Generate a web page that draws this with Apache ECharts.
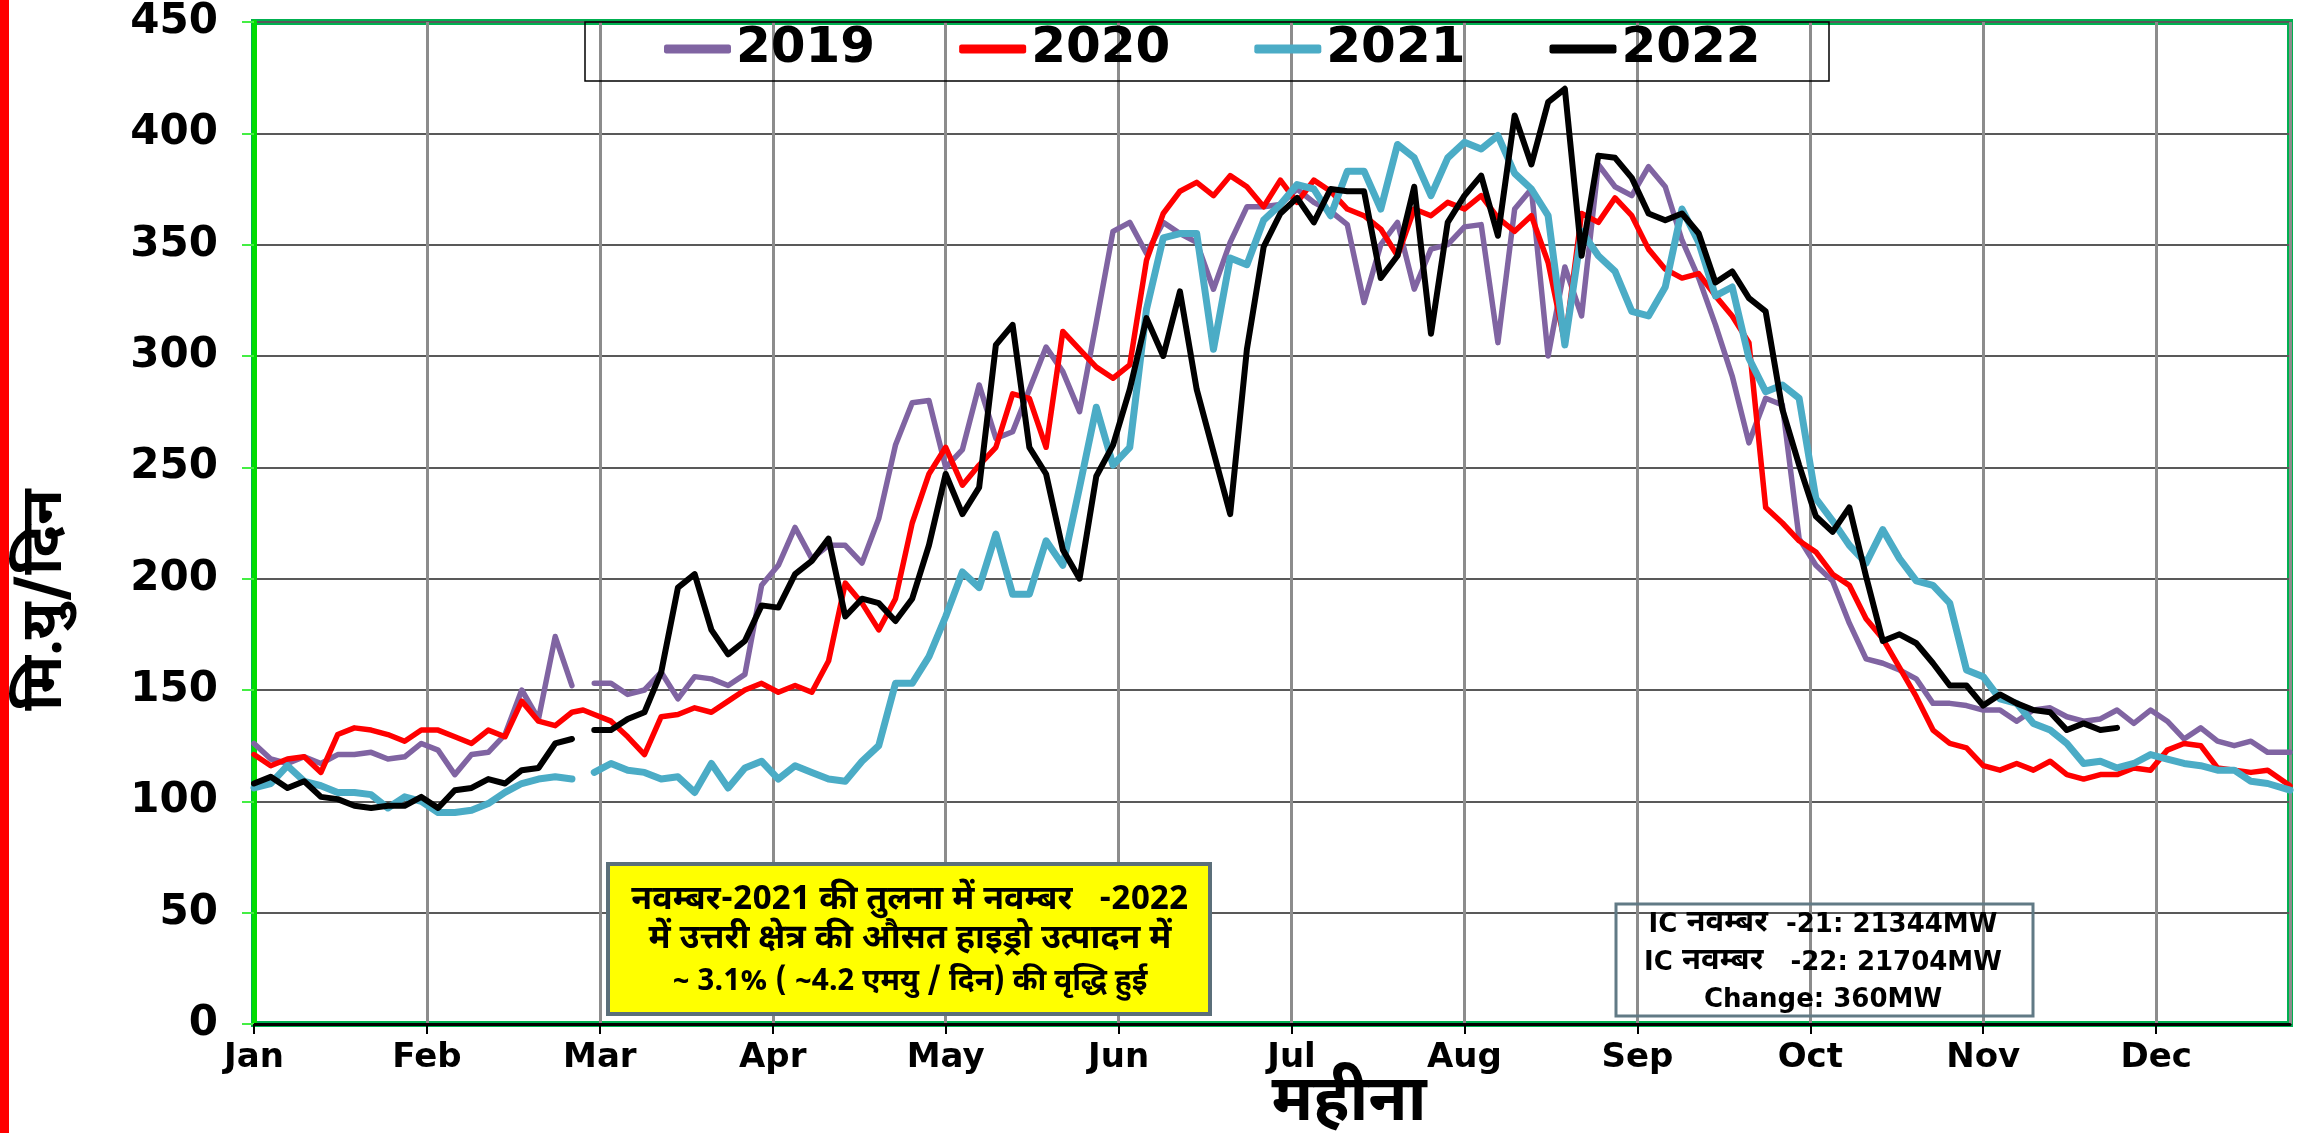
<!DOCTYPE html>
<html>
<head>
<meta charset="utf-8">
<script src="https://cdn.jsdelivr.net/npm/echarts@6/dist/echarts.min.js"></script>
<style>
html,body{margin:0;padding:0;background:#fff;}
#chart{width:2303px;height:1133px;}
</style>
</head>
<body>
<div id="chart"></div>
<script>
// Sample days (day of a 366-day year, 0 = 1 Jan, 59 = 29 Feb)
const DAYS = [0,3,6,9,12,15,18,21,24,27,30,33,36,39,42,45,48,51,54,57,
  59,
  61,64,67,70,73,76,79,82,85,88,91,
  94,97,100,103,106,109,112,115,118,121,124,127,130,133,136,139,142,145,148,151,154,157,160,163,166,169,172,175,178,181,184,
  187,190,193,196,199,202,205,208,211,214,217,220,223,226,229,232,235,238,241,244,247,250,253,256,259,262,265,268,271,274,
  277,280,283,286,289,292,295,298,301,304,307,310,313,316,319,322,325,328,331,334,337,340,343,346,349,352,355,358,361,
  365];

const MONTHS = ['Jan','Feb','Mar','Apr','May','Jun','Jul','Aug','Sep','Oct','Nov','Dec'];
const SERIES_NAMES = ['2019','2020','2021','2022'];

const Y2019 = [126,119,117,120,117,121,121,122,119,120,126,123,112,121,122,130,150,137,174,152,
  null,
  153,153,148,150,158,146,156,155,152,157,197,
  206,223,209,215,215,207,227,260,279,280,250,258,287,263,266,285,304,293,275,315,356,360,346,360,355,351,330,351,367,367,368,
  375,369,365,359,324,350,360,330,348,350,358,359,306,366,375,300,340,318,386,376,372,385,376,352,335,314,291,261,281,278,
  218,206,199,180,164,162,159,155,144,144,143,141,141,136,141,142,138,136,137,141,135,141,136,128,133,127,125,127,122,
  122];

const Y2020 = [121,116,119,120,113,130,133,132,130,127,132,132,129,126,132,129,145,136,134,140,
  141,
  139,136,129,121,138,139,142,140,145,150,153,
  149,152,149,163,198,189,177,191,225,247,259,242,251,259,283,281,259,311,303,295,290,296,343,364,374,378,372,381,376,367,379,
  369,379,374,366,363,357,345,366,363,369,366,372,362,356,363,342,306,364,360,371,363,348,339,335,337,327,318,306,232,225,
  217,212,202,197,182,173,160,147,132,126,124,116,114,117,114,118,112,110,112,112,115,114,123,126,125,115,114,113,114,
  107];

const Y2021 = [106,108,116,109,107,104,104,103,97,102,100,95,95,96,99,104,108,110,111,110,
  null,
  113,117,114,113,110,111,104,117,106,115,118,
  110,116,113,110,109,118,125,153,153,165,183,203,196,220,193,193,217,206,241,277,251,259,321,353,355,355,303,344,341,361,368,
  377,375,363,383,383,366,395,389,372,389,396,393,399,382,375,363,305,356,345,338,320,318,331,366,351,327,331,299,284,287,
  281,236,226,215,207,222,209,199,197,189,159,156,146,144,135,132,126,117,118,115,117,121,119,117,116,114,114,109,108,
  105];

const Y2022 = [108,111,106,109,102,101,98,97,98,98,102,97,105,106,110,108,114,115,126,128,
  null,
  132,132,137,140,158,196,202,177,166,172,188,
  187,202,208,218,183,191,189,181,191,215,247,229,241,305,314,259,247,213,200,246,260,285,317,300,329,285,257,229,303,349,364,
  371,360,375,374,374,335,345,376,310,360,372,381,354,408,386,414,420,345,390,389,380,364,361,364,355,333,338,326,320,276,
  251,228,221,232,201,172,175,171,162,152,152,143,148,144,141,140,132,135,132,133,null,null,null,null,null,null,null,null,null,
  null];

const COLORS = ['#8064A2','#FF0000','#4BACC6','#000000'];
const WIDTHS = [5.5,5.5,7,6];
const VALUES = [Y2019, Y2020, Y2021, Y2022];

const NOTE_LINES = [
  'नवम्बर-2021 की तुलना में नवम्बर   -2022',
  'में उत्तरी क्षेत्र की औसत हाइड्रो उत्पादन में',
  '~ 3.1% ( ~4.2 एमयु / दिन) की वृद्धि हुई'
];
// IC box lines: [latin prefix, devanagari word, latin suffix]
const IC_LINES = [
  ['IC ', 'नवम्बर', '  -21: 21344MW'],
  ['IC ', 'नवम्बर', '   -22: 21704MW'],
  ['', '', 'Change: 360MW']
];
const Y_NAME = 'मि.यु/दिन';
const X_NAME = 'महीना';

const LATIN = '"DejaVu Sans", "Liberation Sans", Arial, sans-serif';
const DEVA = '"Noto Sans Devanagari", "Noto Sans", "Lohit Devanagari", "DejaVu Sans", sans-serif';

const chart = echarts.init(document.getElementById('chart'), null, {renderer: 'canvas'});

const series = SERIES_NAMES.map((name, k) => ({
  name: name,
  type: 'line',
  data: DAYS.map((d, i) => [d, VALUES[k][i]]),
  showSymbol: false,
  symbol: 'none',
  connectNulls: false,
  lineStyle: {color: COLORS[k], width: WIDTHS[k], join: 'round', cap: 'round'},
  itemStyle: {color: COLORS[k]},
  z: 3 + k
}));

const icRich = {
  a: {fontSize: 26, fontWeight: 'bold', fontFamily: LATIN, color: '#000'},
  d: {fontSize: 31, fontWeight: 'bold', fontFamily: DEVA, color: '#000'}
};
const icText = (parts) => (parts[0] ? '{a|' + parts[0] + '}' : '') + (parts[1] ? '{d|' + parts[1] + '}' : '') + '{a|' + parts[2] + '}';

const option = {
  animation: false,
  backgroundColor: '#ffffff',
  grid: {left: 254, right: 13, top: 22, bottom: 109, show: true,
         borderColor: '#00B050', borderWidth: 6, backgroundColor: 'transparent'},
  legend: {
    data: SERIES_NAMES,
    left: 664, top: 21,
    icon: 'roundRect',
    itemWidth: 67, itemHeight: 9, itemGap: 84,
    padding: 0,
    textStyle: {fontSize: 50, fontWeight: 'bold', fontFamily: LATIN, color: '#000', lineHeight: 56}
  },
  xAxis: {
    type: 'value', min: 0, max: 365, interval: 31,
    axisLine: {show: true, lineStyle: {color: '#000', width: 3}},
    axisTick: {show: true, length: 10, lineStyle: {color: '#000', width: 2}},
    axisLabel: {
      margin: 17, showMaxLabel: false,
      fontSize: 34, fontWeight: 'bold', fontFamily: LATIN, color: '#000',
      formatter: v => MONTHS[Math.round(v / 31)] || ''
    },
    splitLine: {show: true, lineStyle: {color: '#8C8C8C', width: 3}}
  },
  yAxis: {
    type: 'value', min: 0, max: 450, interval: 50,
    axisLine: {show: true, lineStyle: {color: '#00DD00', width: 5}},
    axisTick: {show: true, length: 12, lineStyle: {color: '#44EE44', width: 2}},
    axisLabel: {margin: 36, fontSize: 42, fontWeight: 'bold', fontFamily: LATIN, color: '#000'},
    splitLine: {show: true, lineStyle: {color: '#595959', width: 2}}
  },
  series: series,
  graphic: [
    {type: 'rect', shape: {x: 0, y: 0, width: 9, height: 1133}, style: {fill: '#FF0000'}, z: 100},
    {type: 'rect', shape: {x: 585, y: 22, width: 1244, height: 59}, style: {fill: 'none', stroke: '#000', lineWidth: 1.5}, z: 100},
    {type: 'rect', shape: {x: 608, y: 864, width: 602, height: 150}, style: {fill: '#FFFF00', stroke: '#5B6F7A', lineWidth: 4}, z: 100},
    {type: 'text', x: 910, y: 903, z: 101, style: {text: NOTE_LINES[0], fontSize: 34, fontWeight: 'bold', fontFamily: DEVA, fill: '#000', align: 'center', verticalAlign: 'middle'}},
    {type: 'text', x: 910, y: 942, z: 101, style: {text: NOTE_LINES[1], fontSize: 34, fontWeight: 'bold', fontFamily: DEVA, fill: '#000', align: 'center', verticalAlign: 'middle'}},
    {type: 'text', x: 910, y: 984, z: 101, style: {text: NOTE_LINES[2], fontSize: 30, fontWeight: 'bold', fontFamily: DEVA, fill: '#000', align: 'center', verticalAlign: 'middle'}},
    {type: 'rect', shape: {x: 1616, y: 904, width: 417, height: 112}, style: {fill: 'none', stroke: '#617A85', lineWidth: 3}, z: 100},
    {type: 'text', x: 1823, y: 925, z: 101, style: {text: icText(IC_LINES[0]), rich: icRich, align: 'center', verticalAlign: 'middle'}},
    {type: 'text', x: 1823, y: 963, z: 101, style: {text: icText(IC_LINES[1]), rich: icRich, align: 'center', verticalAlign: 'middle'}},
    {type: 'text', x: 1823, y: 1000, z: 101, style: {text: icText(IC_LINES[2]), rich: icRich, align: 'center', verticalAlign: 'middle'}},
    {type: 'text', x: 50, y: 600, rotation: Math.PI / 2, z: 101, style: {text: Y_NAME, fontSize: 58, fontWeight: 'bold', fontFamily: DEVA, fill: '#000', align: 'center', verticalAlign: 'middle'}},
    {type: 'text', x: 1349, y: 1108, z: 101, style: {text: X_NAME, fontSize: 64, fontWeight: 'bold', fontFamily: DEVA, fill: '#000', align: 'center', verticalAlign: 'middle'}}
  ]
};
chart.setOption(option);
</script>
</body>
</html>
